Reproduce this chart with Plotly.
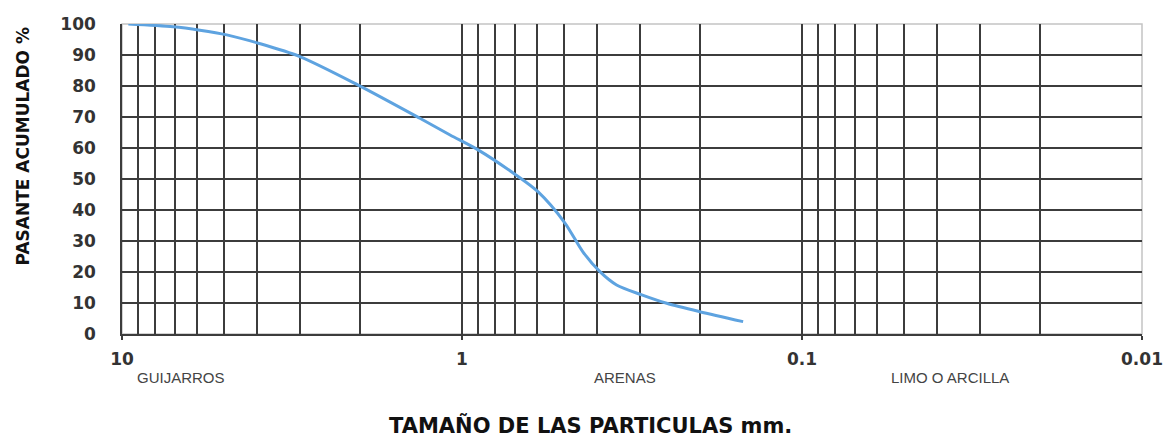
import plotly.graph_objects as go

# Grain size (mm) and cumulative passing (%)
particle_size = [9.58, 7.07, 5.9, 4.92, 3.97, 3.0, 2.02, 1.33, 1.084, 0.897,
                 0.694, 0.598, 0.498, 0.441, 0.393, 0.351, 0.296, 0.25, 0.2, 0.149]
passing = [100, 99.1, 98, 96.5, 93.8, 89.5, 80.3, 69.6, 64.2, 59.4,
           51.3, 45.9, 35.8, 26.5, 20.1, 15.8, 12.6, 9.9, 7.2, 4.0]

x_major_vals = [10, 1, 0.1, 0.01]
x_major_text = ["10", "1", "0.1", "0.01"]
x_minor_vals = [m * d for d in (1, 0.1, 0.01) for m in range(1, 10) if not (m == 1 and d == 0.01)]
y_tick_vals = list(range(0, 101, 10))
y_grid_vals = list(range(10, 100, 10))

zone_labels = ["GUIJARROS", "ARENAS", "LIMO O ARCILLA"]
zone_pos = [0.058, 0.493, 0.812]

GRID = "#3c3c3c"
FONT_B = "DejaVu Sans"

fig = go.Figure()
fig.add_trace(go.Scatter(
    x=particle_size, y=passing, mode="lines",
    line=dict(color="#5ea3e0", width=3, shape="spline", smoothing=0.8),
    hoverinfo="skip", showlegend=False,
))

fig.update_layout(
    width=1163, height=437,
    margin=dict(l=122, r=21, t=24, b=103),
    paper_bgcolor="white", plot_bgcolor="white",
    showlegend=False,
    shapes=[dict(type="rect", xref="paper", yref="paper", x0=0, x1=1, y0=0, y1=1,
                 line=dict(color="#c4c4c4", width=1.5), layer="below")],
)

fig.update_xaxes(
    type="log", range=[1, -2], automargin=False,
    tickmode="array", tickvals=x_major_vals, ticktext=x_major_text,
    ticks="outside", ticklen=4, tickwidth=1.5, tickcolor=GRID,
    showgrid=False, zeroline=False,
    showline=True, linecolor=GRID, linewidth=1.5,
    tickfont=dict(family=FONT_B, size=17, color="#333333", weight="bold"),
    ticklabelstandoff=5,
    minor=dict(tickmode="array", tickvals=x_minor_vals, showgrid=True,
               gridcolor=GRID, gridwidth=1.5, ticks=""),
)
fig.update_yaxes(
    range=[0, 100], tickmode="array", tickvals=y_tick_vals, automargin=False,
    ticks="", showgrid=False, zeroline=False,
    showline=True, linecolor=GRID, linewidth=1.5,
    tickfont=dict(family=FONT_B, size=17, color="#333333", weight="bold"),
    ticklabelstandoff=21,
    minor=dict(tickmode="array", tickvals=y_grid_vals, showgrid=True,
               gridcolor=GRID, gridwidth=1.5, ticks=""),
)

for lab, xp in zip(zone_labels, zone_pos):
    fig.add_annotation(text=lab, xref="paper", yref="paper", x=xp, y=-0.139,
                       xanchor="center", yanchor="middle", showarrow=False,
                       font=dict(family="Liberation Sans", size=15, color="#444444"))

fig.add_annotation(text="<b>TAMAÑO DE LAS PARTICULAS mm.</b>", xref="paper", yref="paper",
                   x=0.459, y=-0.294, xanchor="center", yanchor="middle", showarrow=False,
                   font=dict(family=FONT_B, size=21, color="#111111"))
fig.add_annotation(text="<b>PASANTE ACUMULADO %</b>", xref="paper", yref="paper",
                   x=-0.097, y=0.605, xanchor="center", yanchor="middle", showarrow=False,
                   textangle=-90,
                   font=dict(family=FONT_B, size=17, color="#111111"))

fig.write_html("out.html")
